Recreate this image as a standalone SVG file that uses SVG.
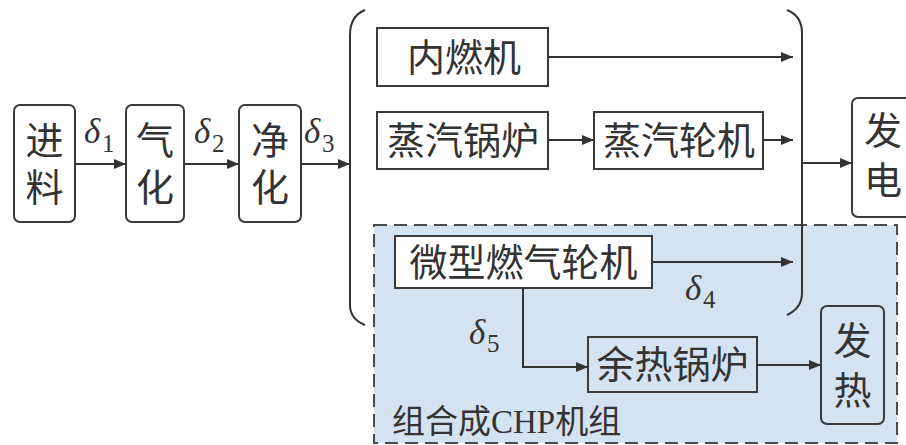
<svg xmlns="http://www.w3.org/2000/svg" width="906" height="445" viewBox="0 0 906 445">
<defs>
<style>
.box{fill:#fff;stroke:#3a3a3a;stroke-width:2}
.t{font-family:"Liberation Serif","Noto Sans CJK SC",serif;font-size:38px;fill:#333;text-anchor:middle}
.d{font-family:"Liberation Serif",serif;font-style:italic;font-size:35px;fill:#333}
.s{font-family:"Liberation Serif",serif;font-size:25px;fill:#333}
.ln{fill:none;stroke:#333;stroke-width:2}
.ar{fill:none;stroke:#333;stroke-width:2;marker-end:url(#ah)}
</style>
<marker id="ah" markerWidth="12" markerHeight="10" refX="12" refY="5" orient="auto" markerUnits="userSpaceOnUse">
<path d="M0,0 L12,5 L0,10 Z" fill="#333"/>
</marker>
</defs>
<rect width="906" height="445" fill="#fff"/>
<g id="chp-region">
<rect x="374" y="225" width="523" height="218" fill="#d4e3f1" stroke="#4a4a4a" stroke-width="2" stroke-dasharray="13,7"/>
<text x="392" y="433" font-family="Liberation Serif,Noto Sans CJK SC,serif" font-size="33" fill="#333">组合成CHP机组</text>
</g>
<g id="brackets">
<path class="ln" d="M365,10 Q350,16 350,35 L350,305 Q350,319 365,325"/>
<path class="ln" d="M787,10 Q802,16 802,33 L802,293 Q802,308 787,315"/>
</g>
<g id="n-feed"><rect class="box" x="14" y="105" width="61" height="117" rx="6"/><text class="t" x="44.5" y="154">进</text><text class="t" x="44.5" y="201">料</text></g>
<g id="n-gasify"><rect class="box" x="126" y="105" width="58" height="117" rx="6"/><text class="t" x="155" y="154">气</text><text class="t" x="155" y="201">化</text></g>
<g id="n-clean"><rect class="box" x="239" y="105" width="62" height="117" rx="6"/><text class="t" x="270" y="154">净</text><text class="t" x="270" y="201">化</text></g>
<g id="n-ice"><rect class="box" x="377" y="28" width="171" height="58"/><text class="t" x="464" y="71">内燃机</text></g>
<g id="n-steamboiler"><rect class="box" x="377" y="112" width="171" height="57"/><text class="t" x="463" y="154">蒸汽锅炉</text></g>
<g id="n-steamturbine"><rect class="box" x="594" y="112" width="169" height="57"/><text class="t" x="679" y="154">蒸汽轮机</text></g>
<g id="n-power"><rect class="box" x="852" y="98" width="62" height="119" rx="6"/><text class="t" x="883" y="144">发</text><text class="t" x="883" y="194">电</text></g>
<g id="n-microturbine"><rect class="box" x="395" y="236" width="257" height="52" fill="none"/><text class="t" x="523.5" y="276">微型燃气轮机</text></g>
<g id="n-hrsg"><rect class="box" x="588" y="337" width="169" height="55" style="fill:none"/><text class="t" x="672.5" y="378">余热锅炉</text></g>
<g id="n-heat"><rect class="box" x="821" y="306" width="63" height="118" rx="6" style="fill:none"/><text class="t" x="852.5" y="354">发</text><text class="t" x="852.5" y="404">热</text></g>
<g id="connectors">
<line class="ar" x1="75" y1="164" x2="126" y2="164"/>
<line class="ar" x1="184" y1="164" x2="239" y2="164"/>
<line class="ar" x1="301" y1="164" x2="350" y2="164"/>
<line class="ar" x1="548" y1="57" x2="793" y2="57"/>
<line class="ar" x1="548" y1="140" x2="594" y2="140"/>
<line class="ar" x1="763" y1="140" x2="793" y2="140"/>
<line class="ar" x1="802" y1="163" x2="852" y2="163"/>
<line class="ar" x1="652" y1="262" x2="793" y2="262"/>
<polyline class="ar" points="523,288 523,367 588,367"/>
<line class="ar" x1="757" y1="365" x2="821" y2="365"/>
</g>
<g id="labels">
<text class="d" x="84" y="143">δ</text><text class="s" x="102" y="152">1</text>
<text class="d" x="194" y="143">δ</text><text class="s" x="212" y="152">2</text>
<text class="d" x="304" y="143">δ</text><text class="s" x="322" y="152">3</text>
<text class="d" x="685" y="300">δ</text><text class="s" x="703" y="308">4</text>
<text class="d" x="469" y="344">δ</text><text class="s" x="487" y="352">5</text>
</g>
</svg>
